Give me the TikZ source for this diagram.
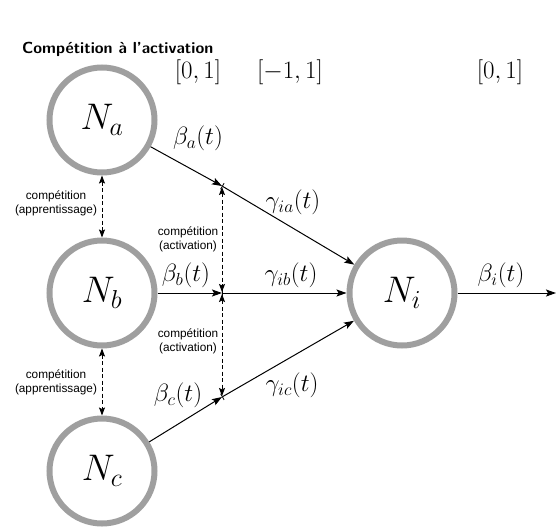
\RequirePackage{fix-cm}
\documentclass[tikz,border=0pt]{standalone}
\usepackage{fontspec}
\newfontfamily\labfont{Liberation Sans}
\usetikzlibrary{arrows.meta}
\begin{document}
\begin{tikzpicture}[x=1pt,y=-1pt,
  neuron/.style={circle,draw=gray!75,line width=6pt,minimum size=105pt,inner sep=0pt,
    font=\fontsize{37}{42}\selectfont},
  mathlab/.style={font=\fontsize{25}{30}\selectfont,inner sep=0pt},
  complab/.style={font=\labfont\fontsize{11.8}{14}\selectfont,align=center,inner sep=0pt},
  conn/.style={line width=1pt,-{Stealth[length=10pt,width=7pt,inset=2pt]}},
  conn2/.style={line width=1pt,{Bar[width=7pt,line width=0.8pt]}-{Stealth[length=10pt,width=7pt,inset=2pt]}},
  comp/.style={line width=1pt,dash pattern=on 4pt off 2.5pt,
    {Stealth[length=8pt,width=6pt,inset=1.5pt]}-{Stealth[length=8pt,width=6pt,inset=1.5pt]}}]
\useasboundingbox (0,0) rectangle (556,530);
\node[anchor=west,inner sep=0pt,font=\sffamily\bfseries\fontsize{16}{19}\selectfont] (title) at (22,49) {Compétition à l'activation};
\node[neuron] (Na) at (102,120) {$N_a$};
\node[neuron] (Nb) at (102,293) {$N_b$};
\node[neuron] (Nc) at (102,471) {$N_c$};
\node[neuron] (Ni) at (402,293) {$N_i$};
\coordinate (Ja) at (222,186);
\coordinate (Jb) at (222,293);
\coordinate (Jc) at (222,397);
\coordinate (out) at (556,293);
\node[mathlab] (r1) at (198,72) {$[0,1]$};
\node[mathlab] (r2) at (290,72) {$[-1,1]$};
\node[mathlab] (r3) at (500,72) {$[0,1]$};
\draw[conn] (Na) -- (Ja);
\draw[conn2] (Ja) -- (Ni);
\draw[conn] (Nb) -- (Jb);
\draw[conn2] (Jb) -- (Ni);
\draw[conn] (Nc) -- (Jc);
\draw[conn2] (Jc) -- (Ni);
\draw[conn] (Ni) -- (out);
\draw[comp,shorten <=1pt,shorten >=1pt] (Ja) -- (Jb);
\draw[comp,shorten <=1pt,shorten >=1pt] (Jb) -- (Jc);
\draw[comp] (Na) -- (Nb);
\draw[comp] (Nb) -- (Nc);
\node[mathlab] (ba) at (198,138) {$\beta_a(t)$};
\node[mathlab] (ga) at (293,202) {$\gamma_{ia}(t)$};
\node[mathlab] (bb) at (186,275) {$\beta_b(t)$};
\node[mathlab] (gb) at (291,275) {$\gamma_{ib}(t)$};
\node[mathlab] (bc) at (178,395) {$\beta_c(t)$};
\node[mathlab] (gc) at (292,385) {$\gamma_{ic}(t)$};
\node[mathlab] (bi) at (501,275) {$\beta_i(t)$};
\node[complab] (c1) at (56,203) {compétition\\(apprentissage)};
\node[complab] (c2) at (56,382) {compétition\\(apprentissage)};
\node[complab] (c3) at (188,239) {compétition\\(activation)};
\node[complab] (c4) at (188,341) {compétition\\(activation)};
\end{tikzpicture}
\end{document}
